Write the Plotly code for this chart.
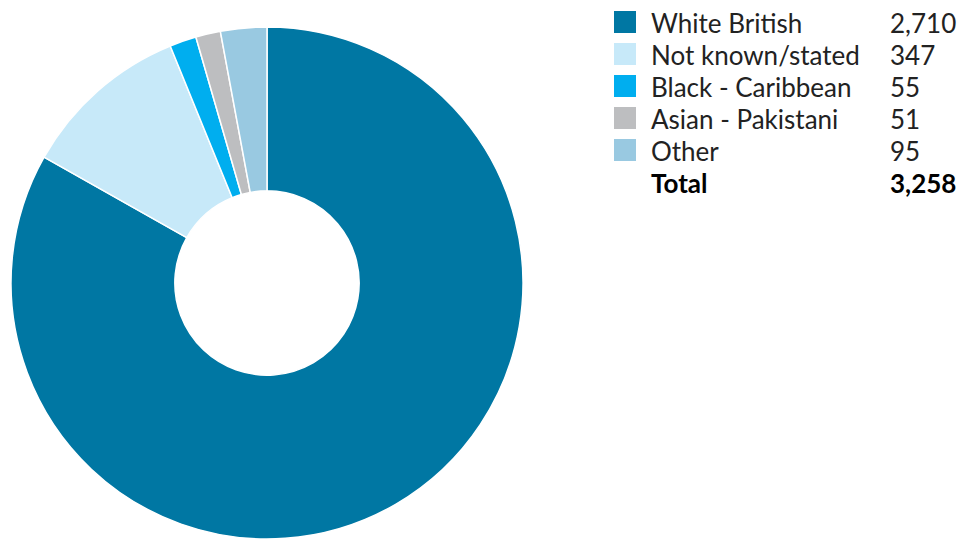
import plotly.graph_objects as go

# Ethnicity breakdown
labels = ["White British", "Not known/stated", "Black - Caribbean", "Asian - Pakistani", "Other"]
values = [2710, 347, 55, 51, 95]
colors = ["#0077a3", "#c7e9f9", "#00aeef", "#bdbec0", "#99c9e1"]
total_label = "Total"
total_value = 3258

W, H = 962, 539
FONT = "Lato"
FS = 26

fig = go.Figure(
    go.Pie(
        labels=labels,
        values=values,
        hole=0.36,
        sort=False,
        direction="clockwise",
        rotation=0,
        marker=dict(colors=colors, line=dict(color="white", width=1.5)),
        textinfo="none",
        hoverinfo="label+value",
        showlegend=False,
        domain=dict(x=[11 / W, 523 / W], y=[0, 512 / H]),
    )
)

# Legend table: swatch, label, value
sq_x0, sq_size = 614, 22
text_x, val_x = 649, 888
row0, row_step = 22, 32

shapes, annotations = [], []
for i, (lab, val, col) in enumerate(zip(labels, values, colors)):
    yc = row0 + i * row_step
    shapes.append(dict(
        type="rect", xref="paper", yref="paper",
        x0=sq_x0 / W, x1=(sq_x0 + sq_size) / W,
        y0=1 - (yc + sq_size / 2) / H, y1=1 - (yc - sq_size / 2) / H,
        fillcolor=col, line=dict(width=0),
    ))
    annotations.append(dict(
        text=lab, x=text_x / W, y=1 - (yc + 1) / H, xref="paper", yref="paper",
        xanchor="left", yanchor="middle", showarrow=False,
        font=dict(family=FONT, size=FS, color="#222222"),
    ))
    annotations.append(dict(
        text=f"{val:,}", x=val_x / W, y=1 - (yc + 1) / H, xref="paper", yref="paper",
        xanchor="left", yanchor="middle", showarrow=False,
        font=dict(family=FONT, size=FS, color="#222222"),
    ))

yc = row0 + len(labels) * row_step
annotations.append(dict(
    text=f"<b>{total_label}</b>", x=text_x / W, y=1 - (yc + 1) / H, xref="paper", yref="paper",
    xanchor="left", yanchor="middle", showarrow=False,
    font=dict(family=FONT, size=FS, color="#000000"),
))
annotations.append(dict(
    text=f"<b>{total_value:,}</b>", x=val_x / W, y=1 - (yc + 1) / H, xref="paper", yref="paper",
    xanchor="left", yanchor="middle", showarrow=False,
    font=dict(family=FONT, size=FS, color="#000000"),
))

fig.update_layout(
    width=W, height=H,
    margin=dict(l=0, r=0, t=0, b=0),
    paper_bgcolor="white", plot_bgcolor="white",
    shapes=shapes, annotations=annotations,
)

fig.write_html("out.html")
